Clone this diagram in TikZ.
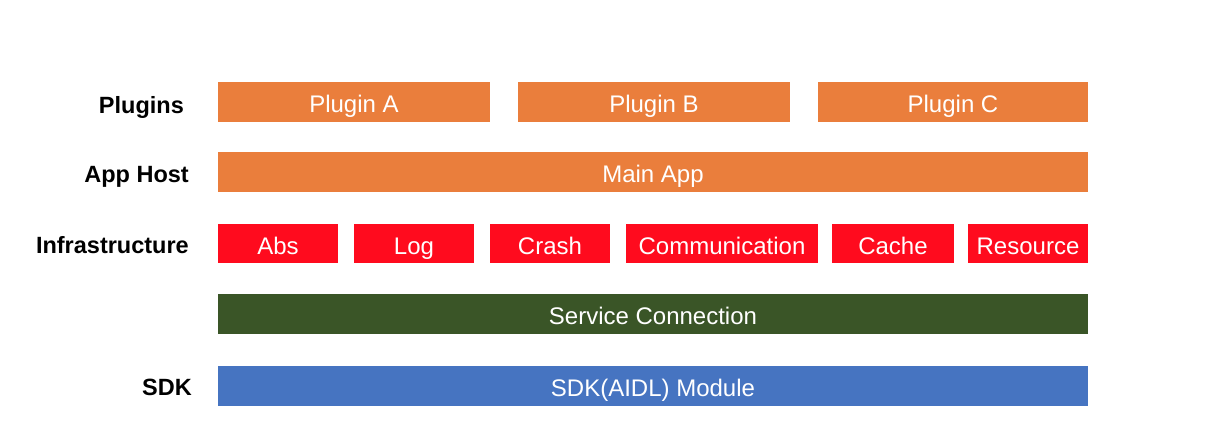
\documentclass[tikz,border=0pt]{standalone}
\usepackage{fontspec}
\setmainfont{Liberation Sans}
\definecolor{orng}{HTML}{EA7E3C}
\definecolor{rd}{HTML}{FF0B1E}
\definecolor{grn}{HTML}{3A5527}
\definecolor{blu}{HTML}{4674C1}
\begin{document}
\begin{tikzpicture}[x=1pt,y=-1pt,
  blk/.style={inner sep=0pt, outer sep=0pt, text=white,
    font=\fontsize{24}{28}\selectfont, anchor=north west,
    minimum height=40pt, text height=21pt, text depth=0pt},
  lbl/.style={font=\bfseries\fontsize{23.5}{28}\selectfont, anchor=base east, inner sep=0pt}]
\useasboundingbox (0,0) rectangle (1226,426);
% Plugins row
\node[blk, fill=orng, minimum width=272pt] (pa) at (218,82) {Plugin A};
\node[blk, fill=orng, minimum width=272pt] (pb) at (518,82) {Plugin B};
\node[blk, fill=orng, minimum width=270pt] (pc) at (818,82) {Plugin C};
% App host
\node[blk, fill=orng, minimum width=870pt] (main) at (218,152) {Main App};
% Infrastructure
\node[blk, fill=rd, minimum width=120pt, minimum height=39pt] (abs) at (218,224) {Abs};
\node[blk, fill=rd, minimum width=120pt, minimum height=39pt] (log) at (354,224) {Log};
\node[blk, fill=rd, minimum width=120pt, minimum height=39pt] (crash) at (490,224) {Crash};
\node[blk, fill=rd, minimum width=192pt, minimum height=39pt] (comm) at (626,224) {Communication};
\node[blk, fill=rd, minimum width=122pt, minimum height=39pt] (cache) at (832,224) {Cache};
\node[blk, fill=rd, minimum width=120pt, minimum height=39pt] (res) at (968,224) {Resource};
% Service connection
\node[blk, fill=grn, minimum width=870pt] (svc) at (218,294) {Service Connection};
% SDK
\node[blk, fill=blu, minimum width=870pt] (sdk) at (218,366) {SDK(AIDL) Module};
% Labels
\node[lbl] (lplug) at (184,113) {Plugins};
\node[lbl] (lhost) at (189,182) {App Host};
\node[lbl] (linfra) at (189,253) {Infrastructure};
\node[lbl] (lsdk) at (192,395) {SDK};
\end{tikzpicture}
\end{document}
